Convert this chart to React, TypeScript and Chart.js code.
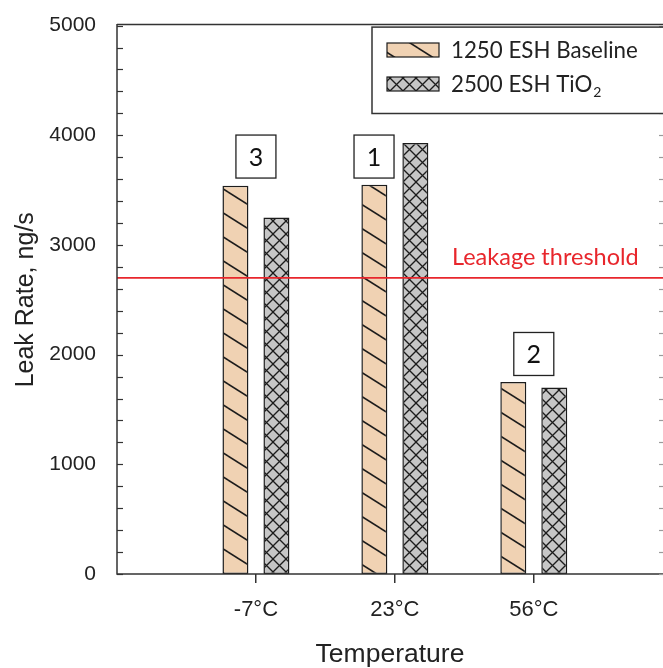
import React, { useEffect, useRef } from "react";
import { Chart, registerables } from "chart.js";

Chart.register(...registerables);

// ---- data ----
const categories = ["-7°C", "23°C", "56°C"];
const categoryPositions = [0, 1, 2];
const baselineValues = [3540, 3550, 1750];
const tio2Values = [3250, 3930, 1700];
const seriesNames = ["1250 ESH Baseline", "2500 ESH TiO"];
const seriesSubscripts = ["", "2"];
const thresholdValue = 2700;
const thresholdLabel = "Leakage threshold";
const yTickValues = [0, 1000, 2000, 3000, 4000, 5000];
const yMinorStep = 200;
const rankLabels = ["3", "1", "2"];
const rankX = [0, 0.85, 2];
const rankY = [3610, 3610, 1810];
const xMin = -1;
const xMax = 2.93;
const yMax = 5000;
const xTitle = "Temperature";
const yTitle = "Leak Rate, ng/s";

// ---- styles ----
const TAN = "#f0d2b3";
const GRAY = "#c6c6c6";
const INK = "#1c1c1c";
const RED = "#e8262c";
const AXIS = "#333333";
const SANS = "'Liberation Sans', Arial, sans-serif";
const HUMAN = "Lato, 'Open Sans', sans-serif";

function makeDiagPattern(ctx: CanvasRenderingContext2D): CanvasPattern {
  const c = document.createElement("canvas");
  const w = 38, h = 24;
  c.width = w; c.height = h;
  const g = c.getContext("2d")!;
  g.fillStyle = TAN;
  g.fillRect(0, 0, w, h);
  g.strokeStyle = INK;
  g.lineWidth = 1.6;
  for (const [dx, dy] of [[0, 0], [0, h], [0, -h], [-w, 0], [w, 0]]) {
    g.beginPath();
    g.moveTo(dx, dy);
    g.lineTo(dx + w, dy + h);
    g.stroke();
  }
  return ctx.createPattern(c, "repeat")!;
}

function makeCrossPattern(ctx: CanvasRenderingContext2D): CanvasPattern {
  const c = document.createElement("canvas");
  const s = 13;
  c.width = s; c.height = s;
  const g = c.getContext("2d")!;
  g.fillStyle = GRAY;
  g.fillRect(0, 0, s, s);
  g.strokeStyle = INK;
  g.lineWidth = 1.3;
  for (const [dx, dy] of [[0, 0], [0, s], [0, -s], [s, 0], [-s, 0]]) {
    g.beginPath();
    g.moveTo(dx, dy);
    g.lineTo(dx + s, dy + s);
    g.stroke();
    g.beginPath();
    g.moveTo(dx + s, dy);
    g.lineTo(dx, dy + s);
    g.stroke();
  }
  return ctx.createPattern(c, "repeat")!;
}

export default function App() {
  const ref = useRef<HTMLCanvasElement | null>(null);

  useEffect(() => {
    document.body.style.margin = "0";
    const canvas = ref.current!;
    const ctx = canvas.getContext("2d")!;
    const diag = makeDiagPattern(ctx);
    const cross = makeCrossPattern(ctx);

    const decor = {
      id: "decor",
      afterDatasetsDraw(chart: any) {
        const { ctx: c, chartArea: a, scales } = chart;
        const xs = scales.x, ys = scales.y;
        c.save();

        // frame
        c.strokeStyle = AXIS;
        c.lineWidth = 1.5;
        c.beginPath();
        c.moveTo(a.left, a.top - 1);
        c.lineTo(a.right + 2, a.top - 1);
        c.moveTo(a.left, a.top - 1.5);
        c.lineTo(a.left, a.bottom);
        c.lineTo(a.right + 2, a.bottom);
        c.stroke();

        // inward ticks, left and right
        c.lineWidth = 1.2;
        for (let v = 0; v <= yMax; v += yMinorStep) {
          const y = Math.round(ys.getPixelForValue(v)) + 0.5;
          c.strokeStyle = AXIS;
          c.beginPath();
          c.moveTo(a.left, y);
          c.lineTo(a.left + 6, y);
          c.stroke();
          c.strokeStyle = "#9a9a9a";
          c.beginPath();
          c.moveTo(a.right, y);
          c.lineTo(a.right - 4, y);
          c.stroke();
        }

        // threshold label
        c.fillStyle = RED;
        c.font = `23.5px ${HUMAN}`;
        c.textAlign = "left";
        c.textBaseline = "alphabetic";
        const ty = ys.getPixelForValue(thresholdValue);
        c.fillText(thresholdLabel, 452, ty - 13);

        // rank boxes
        for (let i = 0; i < rankLabels.length; i++) {
          const cx = xs.getPixelForValue(rankX[i]);
          const by = ys.getPixelForValue(rankY[i]);
          const bw = 40, bh = 43;
          c.fillStyle = "#ffffff";
          c.fillRect(cx - bw / 2, by - bh, bw, bh);
          c.strokeStyle = "#222";
          c.lineWidth = 1.3;
          c.strokeRect(cx - bw / 2, by - bh, bw, bh);
          c.fillStyle = "#111";
          c.font = `25px ${HUMAN}`;
          c.textAlign = "center";
          c.textBaseline = "middle";
          c.fillText(rankLabels[i], cx, by - bh / 2 + 1);
        }

        // legend
        const lx = 372, lt = a.top + 1.5, lb = 113.5;
        c.fillStyle = "#ffffff";
        c.fillRect(lx, lt, chart.width - lx + 10, lb - lt);
        c.strokeStyle = AXIS;
        c.lineWidth = 1.5;
        c.strokeRect(lx, lt, chart.width - lx + 10, lb - lt);
        const fills = [diag, cross];
        const rowY = [50, 84];
        for (let i = 0; i < seriesNames.length; i++) {
          c.fillStyle = fills[i];
          c.fillRect(387, rowY[i] - 7, 52, 14);
          c.strokeStyle = INK;
          c.lineWidth = 1.2;
          c.strokeRect(387, rowY[i] - 7, 52, 14);
          c.fillStyle = "#222";
          c.font = `22.3px ${HUMAN}`;
          c.textAlign = "left";
          c.textBaseline = "middle";
          c.fillText(seriesNames[i], 451, rowY[i] + 1);
          if (seriesSubscripts[i]) {
            const w = c.measureText(seriesNames[i]).width;
            c.font = `14px ${HUMAN}`;
            c.fillText(seriesSubscripts[i], 451 + w + 1, rowY[i] + 8);
          }
        }
        c.restore();
      },
    };

    const chart = new Chart(canvas, {
      type: "bar",
      data: {
        datasets: [
          {
            type: "line",
            label: thresholdLabel,
            data: [
              { x: xMin, y: thresholdValue },
              { x: xMax, y: thresholdValue },
            ],
            borderColor: RED,
            borderWidth: 1.6,
            pointRadius: 0,
            order: 0,
          } as any,
          {
            type: "bar",
            label: seriesNames[0],
            data: categoryPositions.map((x, i) => ({ x, y: baselineValues[i] })),
            backgroundColor: diag,
            borderColor: INK,
            borderWidth: 1.5,
            borderSkipped: false,
            barPercentage: 0.634,
            categoryPercentage: 0.59,
            order: 1,
          } as any,
          {
            type: "bar",
            label: seriesNames[1] + seriesSubscripts[1],
            data: categoryPositions.map((x, i) => ({ x, y: tio2Values[i] })),
            backgroundColor: cross,
            borderColor: INK,
            borderWidth: 1.5,
            borderSkipped: false,
            barPercentage: 0.634,
            categoryPercentage: 0.59,
            order: 1,
          } as any,
        ],
      },
      options: {
        animation: false,
        responsive: false,
        maintainAspectRatio: false,
        layout: { padding: { top: 19, right: 0, left: 0, bottom: 0 } },
        plugins: {
          legend: { display: false },
          tooltip: { enabled: false },
        },
        scales: {
          x: {
            type: "linear",
            min: xMin,
            max: xMax,
            offset: false,
            afterBuildTicks: (s: any) => {
              s.ticks = categoryPositions.map((v) => ({ value: v }));
            },
            afterFit: (s: any) => {
              s.height = 94;
            },
            grid: {
              display: true,
              offset: false,
              drawOnChartArea: false,
              drawTicks: true,
              tickLength: 9,
              color: AXIS,
              lineWidth: 1.5,
            },
            border: { display: false },
            ticks: {
              padding: 14,
              color: "#222",
              font: { family: SANS, size: 22 },
              callback: (_v: any, i: number) => categories[i],
              maxRotation: 0,
            },
            title: {
              display: true,
              text: xTitle,
              color: "#222",
              font: { family: SANS, size: 26.5, lineHeight: 1 },
              padding: { top: 0, bottom: 0 },
            },
          },
          y: {
            min: 0,
            max: yMax,
            afterBuildTicks: (s: any) => {
              s.ticks = yTickValues.map((v) => ({ value: v }));
            },
            afterFit: (s: any) => {
              s.width = 117;
            },
            grid: { display: false },
            border: { display: false },
            ticks: {
              padding: 13,
              color: "#222",
              font: { family: SANS, size: 21 },
              callback: (v: any) => String(v),
            },
            title: {
              display: true,
              text: yTitle,
              color: "#222",
              font: { family: SANS, size: 25, lineHeight: 1 },
              padding: { top: 14, bottom: 0 },
            },
          },
        },
      },
      plugins: [decor],
    });
    return () => chart.destroy();
  }, []);

  return (
    <div style={{ width: 663, height: 668, background: "#fff" }}>
      <canvas ref={ref} width={663} height={668} style={{ display: "block" }} />
    </div>
  );
}
